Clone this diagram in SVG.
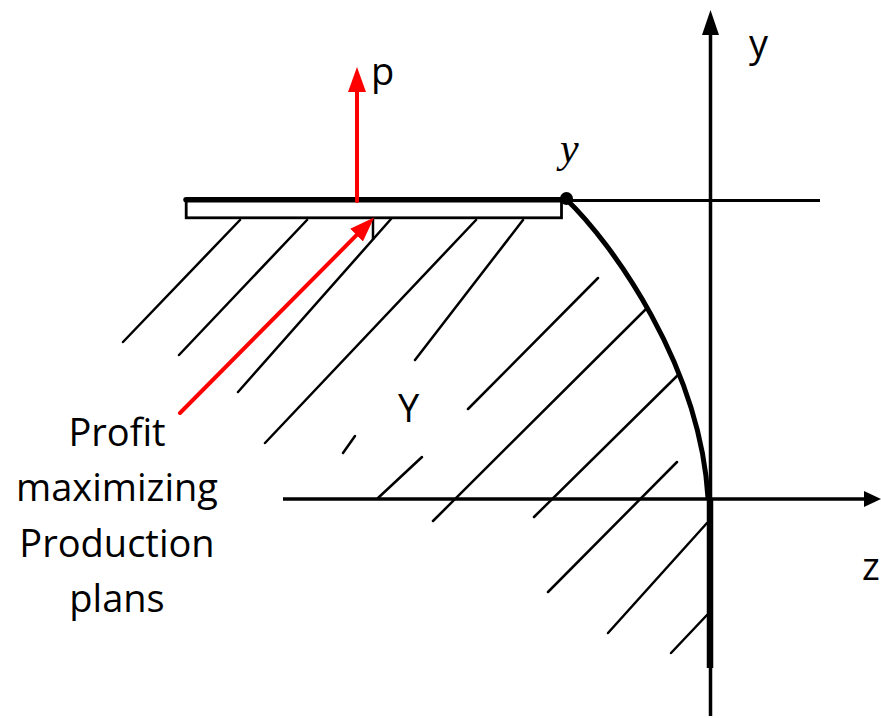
<svg xmlns="http://www.w3.org/2000/svg" width="881" height="718" viewBox="0 0 881 718">
<style>
  .hatch { stroke:#000; stroke-width:2.5; stroke-linecap:round; fill:none; }
  .axis { stroke:#000; stroke-width:3.5; fill:none; }
  .red { stroke:#f00; stroke-width:4; stroke-linecap:round; fill:none; }
  .lbl { font-family:"Open Sans","DejaVu Sans",sans-serif; font-size:38px; fill:#000; }
  .ital { font-family:"Liberation Serif","Times New Roman",serif; font-style:italic; font-size:42px; fill:#000; }
</style>
<defs>
  <marker id="mk-y" viewBox="0 0 25 17" refX="0" refY="8.5" markerWidth="25" markerHeight="17" markerUnits="userSpaceOnUse" orient="auto">
    <path d="M0,0 L25,8.5 L0,17 z" fill="#000"/>
  </marker>
  <marker id="mk-z" viewBox="0 0 17 16" refX="0" refY="8" markerWidth="17" markerHeight="16" markerUnits="userSpaceOnUse" orient="auto">
    <path d="M0,0 L17,8 L0,16 z" fill="#000"/>
  </marker>
  <marker id="mk-red" viewBox="0 0 25 18" refX="0" refY="9" markerWidth="25" markerHeight="18" markerUnits="userSpaceOnUse" orient="auto">
    <path d="M0,0 L25,9 L0,18 z" fill="#f00"/>
  </marker>
</defs>

<g id="hatching">
  <line class="hatch" x1="240" y1="220" x2="123" y2="342"/>
  <line class="hatch" x1="307" y1="220" x2="179" y2="355"/>
  <line class="hatch" x1="391" y1="219" x2="238" y2="392"/>
  <line class="hatch" x1="476" y1="220" x2="265" y2="443"/>
  <line class="hatch" x1="523" y1="220" x2="415" y2="360"/>
  <line class="hatch" x1="355" y1="436" x2="343" y2="453"/>
  <line class="hatch" x1="598" y1="278" x2="468" y2="409"/>
  <line class="hatch" x1="422" y1="457" x2="378" y2="498"/>
  <line class="hatch" x1="647" y1="308" x2="433" y2="521"/>
  <line class="hatch" x1="678" y1="375" x2="534" y2="517"/>
  <line class="hatch" x1="677" y1="462" x2="548" y2="592"/>
  <line class="hatch" x1="707" y1="523" x2="608" y2="633"/>
  <line class="hatch" x1="707" y1="615" x2="671" y2="653"/>
</g>

<g id="axes">
  <line class="axis" x1="710.5" y1="716" x2="710.5" y2="35" marker-end="url(#mk-y)"/>
  <line class="axis" x1="283" y1="499" x2="864" y2="499" marker-end="url(#mk-z)"/>
  <line x1="710" y1="498" x2="710" y2="668" stroke="#000" stroke-width="6.5"/>
  <line x1="566" y1="200.5" x2="820" y2="200.5" stroke="#000" stroke-width="2.8"/>
</g>

<g id="budget-line">
  <rect x="186.2" y="199.5" width="375.3" height="18.3" fill="#fff" stroke="#000" stroke-width="2.8"/>
  <line x1="186" y1="199.7" x2="566" y2="199.7" stroke="#000" stroke-width="5.5" stroke-linecap="round"/>
  <line x1="373" y1="218" x2="373" y2="240" stroke="#000" stroke-width="2.5"/>
</g>

<g id="frontier">
  <path d="M566,199 C612,243 700,365 708,498" fill="none" stroke="#000" stroke-width="5"/>
  <circle cx="566.5" cy="198.5" r="6.5" fill="#000"/>
</g>

<g id="price-vector">
  <line class="red" x1="357" y1="201" x2="357" y2="92" marker-end="url(#mk-red)"/>
</g>

<g id="pointer">
  <line class="red" x1="180" y1="413" x2="356.5" y2="235.2" marker-end="url(#mk-red)"/>
</g>

<g id="labels">
  <text class="lbl" x="371" y="85">p</text>
  <text class="lbl" x="749" y="57">y</text>
  <text class="lbl" x="862" y="580">z</text>
  <text class="lbl" x="398" y="422">Y</text>
  <text class="ital" x="560" y="162">y</text>
  <text class="lbl" text-anchor="middle" x="117" y="446">Profit</text>
  <text class="lbl" text-anchor="middle" x="117" y="501">maximizing</text>
  <text class="lbl" text-anchor="middle" x="117" y="557">Production</text>
  <text class="lbl" text-anchor="middle" x="117" y="612">plans</text>
</g>
</svg>
